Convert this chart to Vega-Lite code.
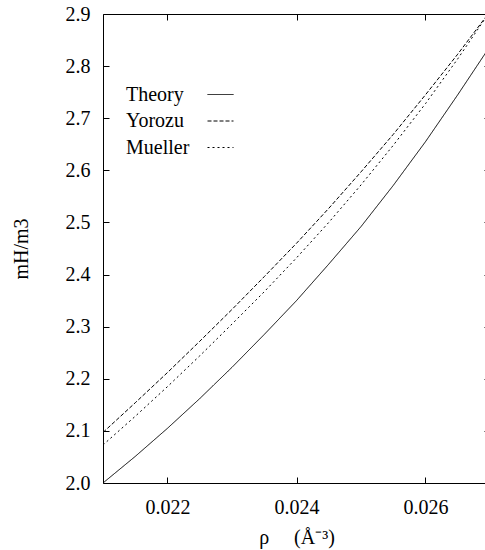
{
  "$schema": "https://vega.github.io/schema/vega-lite/v6.json",
  "autosize": "none",
  "padding": {"left": 103, "top": 14, "right": 0, "bottom": 67},
  "width": 387,
  "height": 469,
  "background": "white",
  "config": {
    "view": {"stroke": "black", "strokeWidth": 1},
    "font": "Liberation Serif",
    "axis": {"labelFont": "Liberation Serif", "titleFont": "Liberation Serif", "labelFontSize": 20, "titleFontSize": 20, "titleFontWeight": "normal", "labelColor": "black", "titleColor": "black", "domain": false, "grid": false, "tickColor": "black", "tickSize": -6}
  },
  "data": {"values": [
    {"rho": 0.0210, "m": 2.000, "s": "Theory"},
    {"rho": 0.0215, "m": 2.051, "s": "Theory"},
    {"rho": 0.0220, "m": 2.105, "s": "Theory"},
    {"rho": 0.0225, "m": 2.162, "s": "Theory"},
    {"rho": 0.0230, "m": 2.222, "s": "Theory"},
    {"rho": 0.0235, "m": 2.285, "s": "Theory"},
    {"rho": 0.0240, "m": 2.350, "s": "Theory"},
    {"rho": 0.0245, "m": 2.420, "s": "Theory"},
    {"rho": 0.0250, "m": 2.492, "s": "Theory"},
    {"rho": 0.0255, "m": 2.571, "s": "Theory"},
    {"rho": 0.0260, "m": 2.655, "s": "Theory"},
    {"rho": 0.0265, "m": 2.745, "s": "Theory"},
    {"rho": 0.0270, "m": 2.838, "s": "Theory"},
    {"rho": 0.0210, "m": 2.097, "s": "Yorozu"},
    {"rho": 0.0215, "m": 2.154, "s": "Yorozu"},
    {"rho": 0.0220, "m": 2.212, "s": "Yorozu"},
    {"rho": 0.0225, "m": 2.272, "s": "Yorozu"},
    {"rho": 0.0230, "m": 2.333, "s": "Yorozu"},
    {"rho": 0.0235, "m": 2.396, "s": "Yorozu"},
    {"rho": 0.0240, "m": 2.460, "s": "Yorozu"},
    {"rho": 0.0245, "m": 2.527, "s": "Yorozu"},
    {"rho": 0.0250, "m": 2.597, "s": "Yorozu"},
    {"rho": 0.0255, "m": 2.669, "s": "Yorozu"},
    {"rho": 0.0260, "m": 2.745, "s": "Yorozu"},
    {"rho": 0.0265, "m": 2.823, "s": "Yorozu"},
    {"rho": 0.0270, "m": 2.905, "s": "Yorozu"},
    {"rho": 0.0210, "m": 2.073, "s": "Mueller"},
    {"rho": 0.0215, "m": 2.128, "s": "Mueller"},
    {"rho": 0.0220, "m": 2.185, "s": "Mueller"},
    {"rho": 0.0225, "m": 2.244, "s": "Mueller"},
    {"rho": 0.0230, "m": 2.305, "s": "Mueller"},
    {"rho": 0.0235, "m": 2.367, "s": "Mueller"},
    {"rho": 0.0240, "m": 2.432, "s": "Mueller"},
    {"rho": 0.0245, "m": 2.500, "s": "Mueller"},
    {"rho": 0.0250, "m": 2.572, "s": "Mueller"},
    {"rho": 0.0255, "m": 2.648, "s": "Mueller"},
    {"rho": 0.0260, "m": 2.728, "s": "Mueller"},
    {"rho": 0.0265, "m": 2.814, "s": "Mueller"},
    {"rho": 0.0270, "m": 2.905, "s": "Mueller"}
  ]},
  "layer": [
    {
      "mark": {"type": "line", "color": "black", "strokeWidth": 1, "clip": true},
      "encoding": {
        "x": {"field": "rho", "type": "quantitative", "scale": {"domain": [0.021, 0.027], "nice": false, "zero": false},
              "axis": {"orient": "bottom", "values": [0.022, 0.024, 0.026], "format": ".3f", "labelPadding": 20, "title": "ρ\u00a0\u00a0\u00a0\u00a0\u00a0(Å\u207b\u00b3)", "titlePadding": 10}},
        "y": {"field": "m", "type": "quantitative", "scale": {"domain": [2.0, 2.9], "nice": false, "zero": false},
              "axis": {"orient": "left", "values": [2.0, 2.1, 2.2, 2.3, 2.4, 2.5, 2.6, 2.7, 2.8, 2.9], "format": ".1f", "labelPadding": 19, "title": "mH/m3", "titlePadding": 34}},
        "strokeDash": {"field": "s", "type": "nominal",
          "scale": {"domain": ["Theory", "Yorozu", "Mueller"], "range": [[1, 0], [4, 2], [2, 3]]},
          "legend": {"title": null, "orient": "none", "legendX": 104, "legendY": 67, "symbolType": "stroke", "symbolSize": 676, "symbolStrokeColor": "black", "symbolStrokeWidth": 1, "labelFont": "Liberation Serif", "labelFontSize": 20, "labelColor": "black", "labelAlign": "left", "labelOffset": -108, "rowPadding": 2.5}}
      }
    },
    {
      "mark": {"type": "line", "opacity": 0},
      "encoding": {
        "x": {"field": "rho", "type": "quantitative", "axis": {"orient": "top", "values": [0.022, 0.024, 0.026], "labels": false, "title": null}},
        "y": {"field": "m", "type": "quantitative", "axis": {"orient": "right", "values": [2.0, 2.1, 2.2, 2.3, 2.4, 2.5, 2.6, 2.7, 2.8, 2.9], "labels": false, "title": null}}
      }
    }
  ],
  "resolve": {"axis": {"x": "independent", "y": "independent"}}
}
